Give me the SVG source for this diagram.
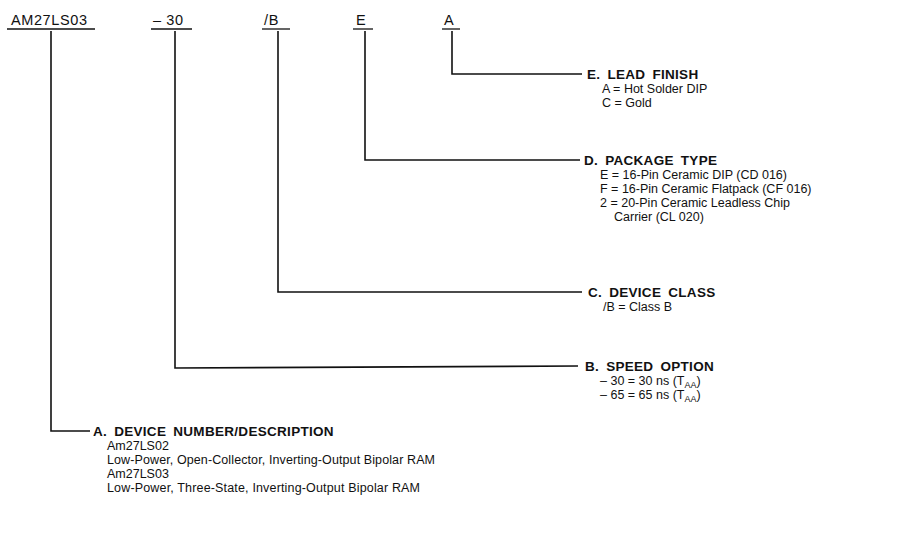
<svg xmlns="http://www.w3.org/2000/svg" width="899" height="533" viewBox="0 0 899 533">
<style>
.t{font-family:"Liberation Sans",Arial,sans-serif;font-size:12.5px;fill:#111}
.h{font-family:"Liberation Sans",Arial,sans-serif;font-size:13.5px;font-weight:bold;fill:#111;letter-spacing:0.3px;word-spacing:3px}
.top{font-family:"Liberation Sans",Arial,sans-serif;font-size:14.5px;fill:#111;letter-spacing:0.6px}
.ln{stroke:#111;stroke-width:1.6;fill:none}
.ul{stroke:#111;stroke-width:1.3;fill:none}
.s{font-size:9px}
</style>
<rect width="899" height="533" fill="#fff"/>
<g id="code">
<text class="top" x="11" y="25">AM27LS03</text>
<line class="ul" x1="7" y1="29" x2="95" y2="29"/>
<text class="top" x="153" y="25">– 30</text>
<line class="ul" x1="151" y1="29" x2="192" y2="29"/>
<text class="top" x="264" y="25">/B</text>
<line class="ul" x1="262" y1="29" x2="290" y2="29"/>
<text class="top" x="356" y="25">E</text>
<line class="ul" x1="353" y1="29" x2="373" y2="29"/>
<text class="top" x="444" y="25">A</text>
<line class="ul" x1="442" y1="29" x2="460" y2="29"/>
</g>
<g id="connectors">
<polyline class="ln" points="452,31 452,74 582,74"/>
<polyline class="ln" points="365,31 365,160 580,160"/>
<polyline class="ln" points="278,31 278,292 582,292"/>
<polyline class="ln" points="175,31 175,368 578,366"/>
<polyline class="ln" points="51,31 51,431 90,431"/>
</g>
<g id="lead-finish">
<text class="h" x="587" y="79">E. LEAD FINISH</text>
<text class="t" x="602" y="93">A = Hot Solder DIP</text>
<text class="t" x="602" y="107">C = Gold</text>
</g>
<g id="package-type">
<text class="h" x="584" y="165">D. PACKAGE TYPE</text>
<text class="t" x="600" y="179">E = 16-Pin Ceramic DIP (CD 016)</text>
<text class="t" x="600" y="193">F = 16-Pin Ceramic Flatpack (CF 016)</text>
<text class="t" x="600" y="207">2 = 20-Pin Ceramic Leadless Chip</text>
<text class="t" x="614" y="221">Carrier (CL 020)</text>
</g>
<g id="device-class">
<text class="h" x="588" y="297">C. DEVICE CLASS</text>
<text class="t" x="603" y="311">/B = Class B</text>
</g>
<g id="speed-option">
<text class="h" x="585" y="371">B. SPEED OPTION</text>
<text class="t" x="600" y="385">– 30 = 30 ns (T<tspan class="s" dy="3">AA</tspan><tspan dy="-3">)</tspan></text>
<text class="t" x="600" y="399">– 65 = 65 ns (T<tspan class="s" dy="3">AA</tspan><tspan dy="-3">)</tspan></text>
</g>
<g id="device-number">
<text class="h" x="93" y="436">A. DEVICE NUMBER/DESCRIPTION</text>
<text class="t" x="107" y="450">Am27LS02</text>
<text class="t" x="107" y="464" textLength="328" lengthAdjust="spacing">Low-Power, Open-Collector, Inverting-Output Bipolar RAM</text>
<text class="t" x="107" y="478">Am27LS03</text>
<text class="t" x="107" y="492" textLength="313" lengthAdjust="spacing">Low-Power, Three-State, Inverting-Output Bipolar RAM</text>
</g>
</svg>
